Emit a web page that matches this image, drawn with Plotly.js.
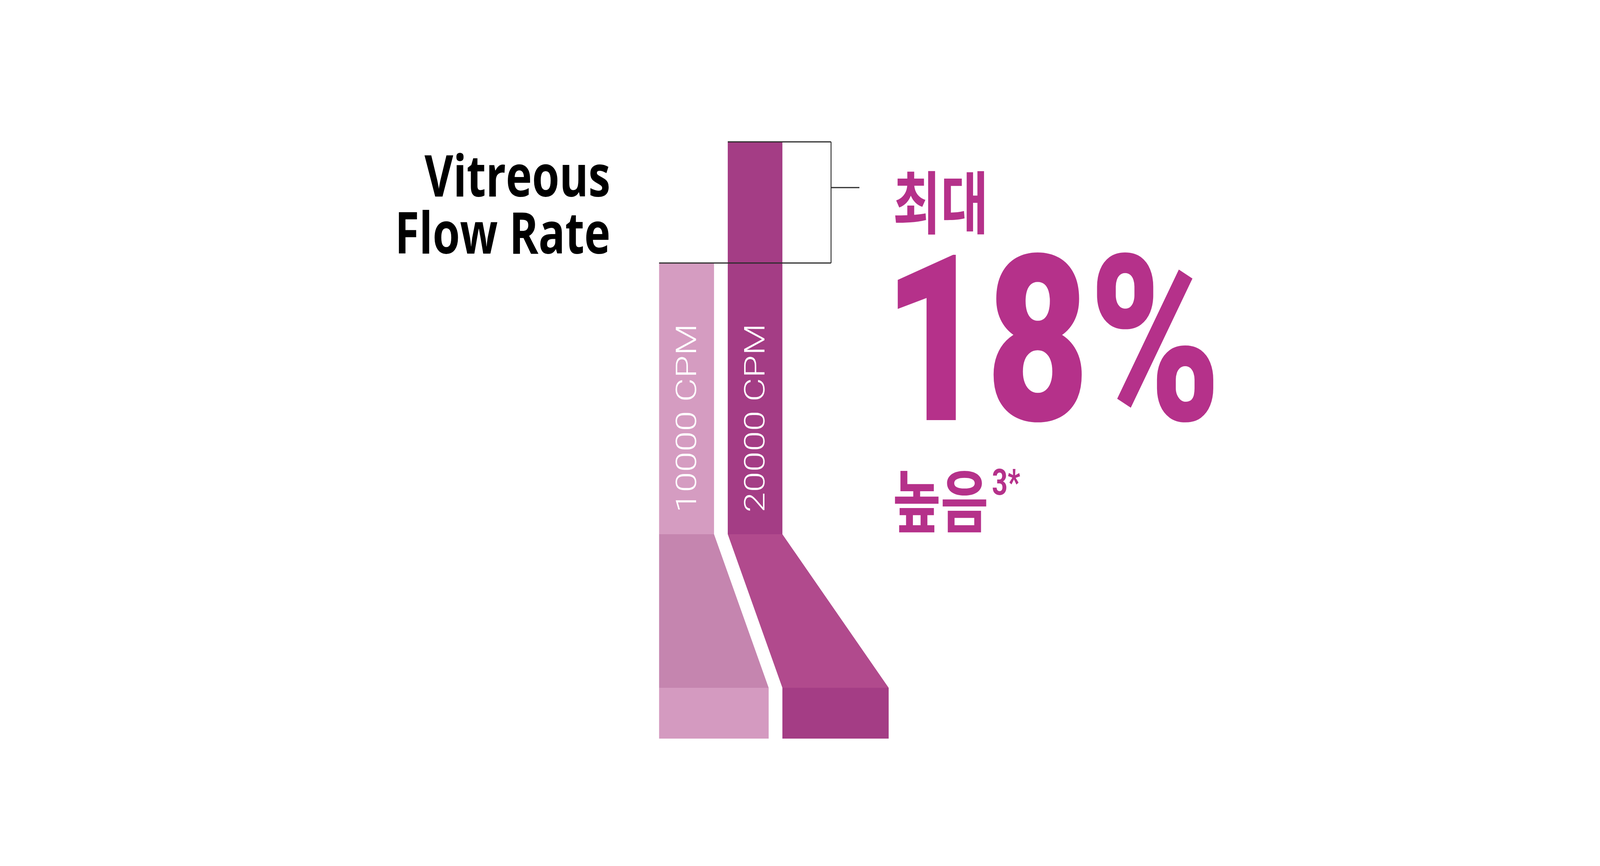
<!DOCTYPE html>
<html>
<head>
<meta charset="utf-8">
<script src="https://cdn.plot.ly/plotly-3.0.1.min.js"></script>
<style>
  html, body { margin: 0; padding: 0; background: #ffffff; overflow: hidden; }
  #chart { width: 5360px; height: 2216px; transform-origin: 0 0; }
</style>
</head>
<body>
<div id="chart"></div>
<script>
// ---------------- data ----------------
const categories = ['10000 CPM', '20000 CPM'];
const flowRate = [694, 1004];            // relative vitreous flow (bar heights)
const titleLines = ['Vitreous', 'Flow Rate'];
const headlineTop = '최대';
const headlineValue = '18%';
const headlineBottom = '높음';
const footnoteMark = '3*';

// ---------------- geometry / style ----------------
const W = 5360, H = 2216;               // design frame
const BASE_PX = 1367;                    // design-frame pixel row of value 0
const G = {
  barX: [2300, 2529.5], barW: [184, 183],
  outX: [2391.5, 2799], outW: [367, 356],
  funnelDepth: 393, outletDepth: 130,
  bracketX: 2784, tickX: 2879, tickOffset: 117
};
const COLORS = {
  bar: ['#D59CC1', '#A43D85'],
  funnel: ['#C585AF', '#B14A8D'],
  outlet: ['#D49AC0', '#A43D85'],
  accent: '#B5318A',
  line: '#2b2b2b'
};

// fit the design frame into the actual window
(function fit() {
  const vw = window.innerWidth || W, vh = window.innerHeight || H;
  const el = document.getElementById('chart');
  if (vw !== W || vh !== H) el.style.transform = 'scale(' + (vw / W) + ',' + (vh / H) + ')';
})();

const traces = [];
traces.push({
  type: 'bar', x: G.barX, y: flowRate, base: [0, 0], width: G.barW,
  marker: { color: COLORS.bar, line: { width: 0 } },
  hoverinfo: 'skip', showlegend: false
});
categories.forEach((c, i) => {
  const tl = G.barX[i] - G.barW[i] / 2, tr = G.barX[i] + G.barW[i] / 2;
  const bl = G.outX[i] - G.outW[i] / 2, br = G.outX[i] + G.outW[i] / 2;
  traces.push({
    type: 'scatter', mode: 'lines', fill: 'toself',
    x: [tl, tr, br, bl, tl],
    y: [0, 0, -G.funnelDepth, -G.funnelDepth, 0],
    fillcolor: COLORS.funnel[i], line: { width: 0, color: COLORS.funnel[i] },
    hoverinfo: 'skip', showlegend: false
  });
});
traces.push({
  type: 'bar', x: G.outX, y: [G.outletDepth, G.outletDepth],
  base: [-G.funnelDepth - G.outletDepth, -G.funnelDepth - G.outletDepth],
  width: G.outW,
  marker: { color: COLORS.outlet, line: { width: 0 } },
  hoverinfo: 'skip', showlegend: false
});

const hiV = Math.max(...flowRate), loV = Math.min(...flowRate);
const ln = (x0, x1, y0, y1) => ({ type: 'line', xref: 'x', yref: 'y', x0, x1, y0, y1, line: { color: COLORS.line, width: 3 }, layer: 'above' });
const shapes = [
  ln(G.barX[1] - G.barW[1] / 2, G.bracketX, hiV, hiV),
  ln(G.barX[0] - G.barW[0] / 2, G.bracketX, loV, loV),
  ln(G.bracketX, G.bracketX, loV, hiV),
  ln(G.bracketX, G.tickX, hiV - G.tickOffset, hiV - G.tickOffset)
];

const annotations = [];
categories.forEach((c, i) => {
  annotations.push({
    xref: 'x', yref: 'y', x: G.barX[i], y: BASE_PX - 1070,
    text: c, showarrow: false, textangle: -90,
    xanchor: 'center', yanchor: 'middle', borderpad: 0,
    font: { family: 'Liberation Sans Narrow, Roboto, sans-serif', size: 94, color: '#ffffff', weight: 300 }
  });
});
const ann = (x, yPx, text, anchor, font) => annotations.push({
  xref: 'x', yref: 'y', x, y: BASE_PX - yPx, text, showarrow: false,
  xanchor: anchor, yanchor: 'middle', borderpad: 0, font
});
ann(2046, 445, '<b>' + titleLines[0] + '</b>', 'right', { family: 'Open Sans, sans-serif', size: 148, color: '#000000' });
ann(2046, 591, '<b>' + titleLines[1] + '</b>', 'right', { family: 'Open Sans, sans-serif', size: 148, color: '#000000' });
ann(2990, 508, '<b>' + headlineTop + '</b>', 'left', { family: 'Noto Sans CJK KR, sans-serif', size: 174, color: COLORS.accent });
ann(2958, 871, headlineValue, 'left', { family: 'Roboto, sans-serif', size: 595, color: COLORS.accent, weight: 900 });
ann(2990, 1272, '<b>' + headlineBottom + '</b>', 'left', { family: 'Noto Sans CJK KR, sans-serif', size: 174, color: COLORS.accent });
ann(3322, 1234, '<b>' + footnoteMark + '</b>', 'left', { family: 'Roboto, sans-serif', size: 92, color: COLORS.accent });

const layout = {
  width: W, height: H,
  margin: { l: 0, r: 0, t: 0, b: 0, pad: 0 },
  paper_bgcolor: '#ffffff', plot_bgcolor: '#ffffff',
  showlegend: false, barmode: 'overlay',
  xaxis: { range: [0, W], visible: false, fixedrange: true },
  yaxis: { range: [BASE_PX - H, BASE_PX], visible: false, fixedrange: true },
  shapes: shapes, annotations: annotations
};

Plotly.newPlot('chart', traces, layout, { staticPlot: true, displayModeBar: false });
</script>
</body>
</html>
